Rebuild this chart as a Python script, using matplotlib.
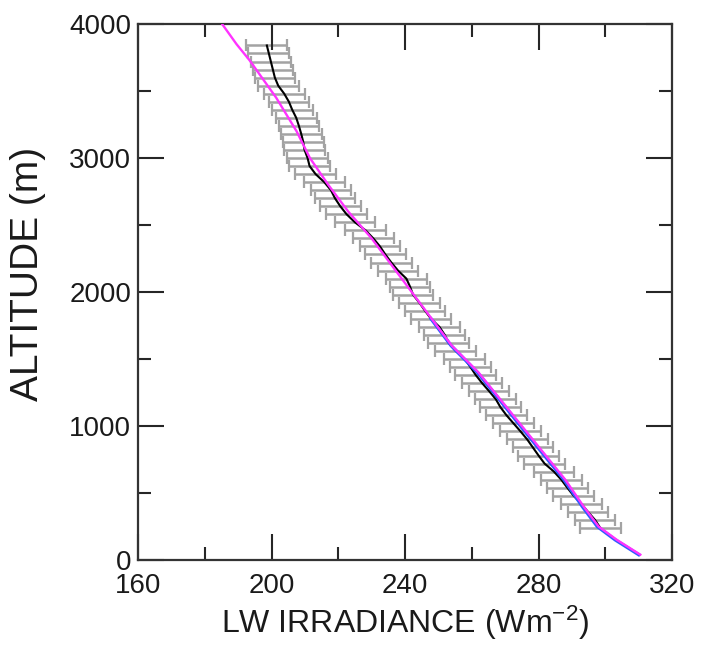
import matplotlib
matplotlib.use("Agg")
import matplotlib.pyplot as plt
from matplotlib.ticker import MultipleLocator

plt.rcParams["font.family"] = ["Liberation Sans", "DejaVu Sans"]
plt.rcParams["mathtext.fontset"] = "custom"
plt.rcParams["mathtext.rm"] = "Liberation Sans"
plt.rcParams["mathtext.it"] = "Liberation Sans"

# Measured profile: mean LW irradiance at each altitude bin (m)
obs_altitude = [240, 300, 360, 420, 480, 540, 600, 660, 720, 780, 840, 900,
                960, 1020, 1080, 1140, 1200, 1260, 1320, 1380, 1440, 1500,
                1560, 1620, 1680, 1740, 1800, 1860, 1920, 1980, 2040, 2100,
                2160, 2220, 2280, 2340, 2400, 2460, 2520, 2580, 2640, 2700,
                2760, 2820, 2880, 2940, 3000, 3060, 3120, 3180, 3240, 3300,
                3360, 3420, 3480, 3540, 3600, 3660, 3720, 3780, 3840]
obs_irradiance = [298.5, 296.9, 294.8, 292.8, 290.5, 288.6, 286.8, 284.6,
                  281.8, 280.0, 278.3, 276.6, 274.6, 272.5, 270.4, 268.6,
                  267.2, 265.2, 263.1, 261.2, 259.6, 257.9, 255.2, 253.1,
                  251.9, 250.3, 247.8, 246.0, 244.3, 242.4, 241.5, 240.4,
                  237.9, 235.9, 234.1, 232.5, 230.5, 228.2, 225.0, 222.5,
                  220.6, 219.0, 217.8, 215.8, 213.2, 211.4, 210.8, 209.9,
                  209.5, 208.9, 208.2, 207.4, 206.2, 205.2, 203.8, 202.0,
                  201.0, 200.4, 199.8, 199.2, 198.6]
obs_spread = 6.1  # half-width of the variability bars (W m-2)

# Model profile (full column)
model_altitude = [40, 150, 250, 400, 600, 800, 1000, 1200, 1400, 1600, 1800,
                  2000, 2200, 2400, 2600, 2800, 3000, 3200, 3450, 3730, 3850,
                  4000]
model_irradiance = [310.5, 303.5, 298.0, 293.5, 288.0, 281.5, 275.0, 268.5,
                    262.0, 254.0, 248.0, 242.0, 236.0, 230.0, 223.0, 217.0,
                    211.5, 207.5, 201.4, 193.4, 189.5, 185.2]

# Second model profile (lower layer)
model2_altitude = [40, 150, 250, 400, 600, 800, 1000, 1200, 1400, 1600, 1800]
model2_irradiance = [310.0, 303.0, 297.6, 293.1, 287.6, 281.1, 274.6, 268.2,
                     261.7, 253.8, 247.8]

fig = plt.figure(figsize=(7.06, 6.58), dpi=100)
ax = fig.add_axes([0.1955, 0.1489, 0.7564, 0.8146])

ax.errorbar(obs_irradiance, obs_altitude, xerr=obs_spread, fmt="none",
            ecolor="#a3a3a3", elinewidth=1.8, capsize=4.2, capthick=1.6,
            zorder=1)
ax.plot(obs_irradiance, obs_altitude, color="black", lw=1.5, zorder=2)
ax.plot(model2_irradiance, model2_altitude, color="#2f5bff", lw=2.4, zorder=3)
ax.plot(model_irradiance, model_altitude, color="#ff33ff", lw=1.7, zorder=4)

ax.set_xlim(160, 320)
ax.set_ylim(0, 4000)
ax.xaxis.set_major_locator(MultipleLocator(40))
ax.xaxis.set_minor_locator(MultipleLocator(20))
ax.yaxis.set_major_locator(MultipleLocator(1000))
ax.yaxis.set_minor_locator(MultipleLocator(500))

ax.tick_params(which="both", direction="in", top=True, right=True,
               color="#262626", width=1.5, labelsize=20, labelcolor="#1a1a1a")
ax.tick_params(which="major", length=19)
ax.tick_params(which="minor", length=9.5)
ax.tick_params(axis="x", pad=9.5)
ax.tick_params(axis="y", pad=5)
for sp in ax.spines.values():
    sp.set_linewidth(1.6)
    sp.set_color("#333333")

ax.set_xlabel(r"LW IRRADIANCE (Wm$^{\mathregular{-2}}$)", fontsize=23,
              color="#1a1a1a", labelpad=3)
ax.set_ylabel("ALTITUDE (m)", fontsize=28, color="#1a1a1a")
ax.yaxis.set_label_coords(-0.172, 0.534)

fig.savefig("out.png", dpi=100)
